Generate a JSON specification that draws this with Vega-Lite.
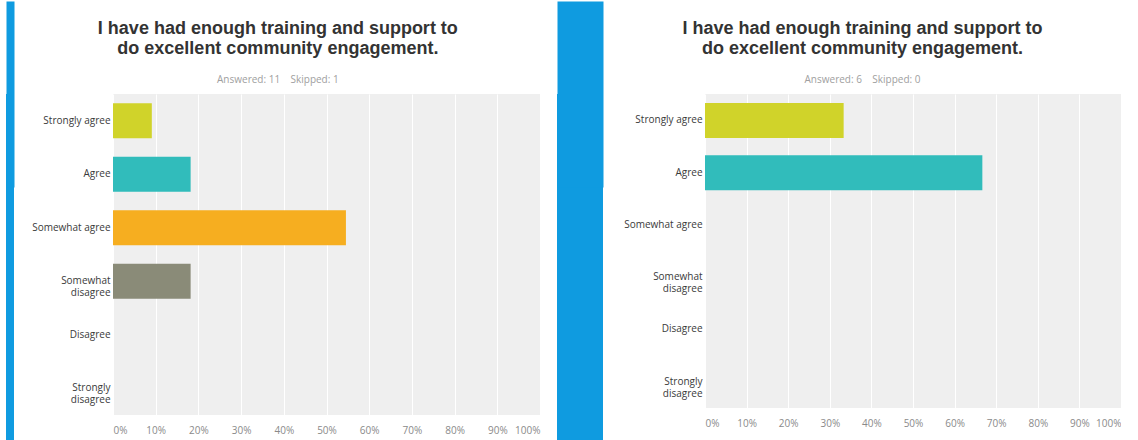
{
  "$schema": "https://vega.github.io/schema/vega-lite/v6.json",
  "background": "white",
  "padding": {"left": 6, "top": 0, "right": 0, "bottom": 0},
  "spacing": 17,
  "config": {
    "font": "Open Sans",
    "view": {"stroke": null},
    "title": {
      "anchor": "middle",
      "frame": "bounds",
      "dx": -8,
      "font": "Liberation Sans",
      "fontSize": 18,
      "fontWeight": "bold",
      "color": "#333333",
      "lineHeight": 20,
      "subtitleFont": "Open Sans",
      "subtitleFontSize": 10,
      "subtitleColor": "#a0a0a0",
      "subtitlePadding": 17,
      "offset": 9
    },
    "axisY": {
      "title": null, "domain": false, "ticks": false, "grid": false,
      "labelFont": "Open Sans", "labelFontSize": 10, "labelColor": "#3a3a3a",
      "labelPadding": 3, "labelLineHeight": 12,
      "labelExpr": "split(datum.label, '\\n')"
    },
    "axisX": {
      "title": null, "domain": false, "ticks": false, "grid": true,
      "gridColor": "#ffffff", "gridWidth": 1, "gridOpacity": 1,
      "labelFont": "Open Sans", "labelFontSize": 10, "labelColor": "#8a8a8a",
      "labelPadding": 10, "labelFlush": true,
      "values": [0, 10, 20, 30, 40, 50, 60, 70, 80, 90, 100],
      "labelExpr": "datum.value + '%'"
    }
  },
  "datasets": {
    "left": [
      {"answer": "Strongly agree", "pct": 9.09},
      {"answer": "Agree", "pct": 18.18},
      {"answer": "Somewhat agree", "pct": 54.55},
      {"answer": "Somewhat\ndisagree", "pct": 18.18},
      {"answer": "Disagree", "pct": 0},
      {"answer": "Strongly\ndisagree", "pct": 0}
    ],
    "right": [
      {"answer": "Strongly agree", "pct": 33.33},
      {"answer": "Agree", "pct": 66.67},
      {"answer": "Somewhat agree", "pct": 0},
      {"answer": "Somewhat\ndisagree", "pct": 0},
      {"answer": "Disagree", "pct": 0},
      {"answer": "Strongly\ndisagree", "pct": 0}
    ],
    "blank": [{"t": ""}]
  },
  "hconcat": [
    {
      "data": {"name": "blank"},
      "width": 8,
      "height": 440,
      "view": {"fill": "#0f9be0", "stroke": null},
      "mark": "text",
      "encoding": {
        "text": {"field": "t"},
        "x": {
          "field": "t", "type": "nominal",
          "axis": {"orient": "top", "grid": false, "labels": false, "ticks": false, "title": null,
                   "domain": true, "domainColor": "#0f9be0", "domainWidth": 186, "domainCap": "butt"}
        }
      }
    },
    {
      "data": {"name": "left"},
      "width": 427,
      "height": 321,
      "view": {"fill": "#efefef", "stroke": null},
      "title": {
        "text": ["", "I have had enough training and support to", "do excellent community engagement."],
        "subtitle": "Answered: 11\u00a0\u00a0\u00a0\u00a0Skipped: 1"
      },
      "mark": {"type": "bar"},
      "encoding": {
        "y": {
          "field": "answer", "type": "nominal",
          "sort": ["Strongly agree", "Agree", "Somewhat agree", "Somewhat\ndisagree", "Disagree", "Strongly\ndisagree"],
          "scale": {"paddingInner": 0.35, "paddingOuter": 0.175}
        },
        "x": {"field": "pct", "type": "quantitative", "scale": {"domain": [0, 100], "nice": false}},
        "color": {
          "field": "answer", "type": "nominal", "legend": null,
          "scale": {
            "domain": ["Strongly agree", "Agree", "Somewhat agree", "Somewhat\ndisagree", "Disagree", "Strongly\ndisagree"],
            "range": ["#d0d32a", "#31bcbb", "#f6ae20", "#8a8b78", "#7a6ea8", "#e0584e"]
          }
        }
      }
    },
    {
      "data": {"name": "blank"},
      "width": 46,
      "height": 440,
      "view": {"fill": "#0f9be0", "stroke": null},
      "mark": "text",
      "encoding": {
        "text": {"field": "t"},
        "x": {
          "field": "t", "type": "nominal",
          "axis": {"orient": "top", "grid": false, "labels": false, "ticks": false, "title": null,
                   "domain": true, "domainColor": "#0f9be0", "domainWidth": 186, "domainCap": "butt"}
        }
      }
    },
    {
      "data": {"name": "right"},
      "width": 416,
      "height": 314,
      "view": {"fill": "#efefef", "stroke": null},
      "title": {
        "text": ["", "I have had enough training and support to", "do excellent community engagement."],
        "subtitle": "Answered: 6\u00a0\u00a0\u00a0\u00a0Skipped: 0"
      },
      "mark": {"type": "bar"},
      "encoding": {
        "y": {
          "field": "answer", "type": "nominal",
          "sort": ["Strongly agree", "Agree", "Somewhat agree", "Somewhat\ndisagree", "Disagree", "Strongly\ndisagree"],
          "scale": {"paddingInner": 0.33, "paddingOuter": 0.17},
          "axis": {"minExtent": 85}
        },
        "x": {"field": "pct", "type": "quantitative", "scale": {"domain": [0, 100], "nice": false}},
        "color": {
          "field": "answer", "type": "nominal", "legend": null,
          "scale": {
            "domain": ["Strongly agree", "Agree", "Somewhat agree", "Somewhat\ndisagree", "Disagree", "Strongly\ndisagree"],
            "range": ["#d0d32a", "#31bcbb", "#f6ae20", "#8a8b78", "#7a6ea8", "#e0584e"]
          }
        }
      }
    }
  ]
}
